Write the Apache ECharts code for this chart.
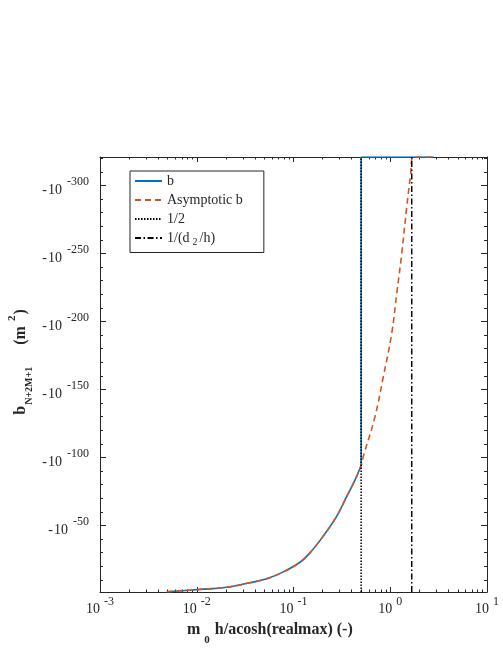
<!DOCTYPE html>
<html>
<head>
<meta charset="utf-8">
<script src="https://cdn.jsdelivr.net/npm/echarts@6/dist/echarts.min.js"></script>
<style>
  html, body { margin: 0; padding: 0; background: #fff; }
  #main { width: 503px; height: 653px; }
</style>
</head>
<body>
<div id="main"></div>
<script>
// x = m0 h/acosh(realmax), y = exponent e of b = -10^e
var bX = [0.0049, 0.0108, 0.0204, 0.0355, 0.0528, 0.0785, 0.1167, 0.148, 0.202, 0.279, 0.355, 0.433, 0.5, 0.5, 2.8];
var bExp = [-1.2, -2.9, -4.5, -7.8, -10.7, -15.8, -22.9, -29.8, -41.9, -56.6, -71.3, -83.5, -94, -321, -321];
var asymX = [0.0049, 0.0108, 0.0204, 0.0355, 0.0528, 0.0785, 0.1167, 0.148, 0.202, 0.279, 0.355, 0.433, 0.5, 0.526, 0.695, 0.847, 1.035, 1.166, 1.313, 1.479, 1.625, 1.72, 2.8];
var asymExp = [-1.2, -2.9, -4.5, -7.8, -10.7, -15.8, -22.9, -29.8, -41.9, -56.6, -71.3, -83.5, -94, -100.6, -129.9, -159.2, -191.1, -220.4, -249.7, -283.9, -308.4, -321, -321];
var halfX = 0.5;
var d2X = 1.667;

var yMin = -321, yMax = -1;
var yMajor = [-50, -100, -150, -200, -250, -300];
var yMinor = [-10, -20, -30, -40, -60, -70, -80, -90, -110, -120, -130, -140, -160, -170, -180, -190,
              -210, -220, -230, -240, -260, -270, -280, -290, -310, -320];
var xMajor = [0.001, 0.01, 0.1, 1, 10];
var xMinor = [];
[0.001, 0.01, 0.1, 1].forEach(function (d) {
  for (var k = 2; k <= 9; k++) xMinor.push(+(k * d).toPrecision(3));
});

var ink = '#262626';
var serif = 'Liberation Serif';
var jump = 12; // index where b leaves the curve and jumps to the floor

function pairs(xs, ys) {
  return xs.map(function (x, i) { return [x, ys[i]]; });
}

function xAx(pos, ticks, len, withLabel, withLine) {
  return {
    type: 'log', logBase: 10, position: pos, min: 0.001, max: 10,
    axisLine: { show: withLine, onZero: false, lineStyle: { color: ink, width: 1 } },
    axisTick: { show: true, inside: true, length: len, customValues: ticks, lineStyle: { color: ink } },
    axisLabel: {
      show: withLabel, customValues: ticks, margin: 2,
      formatter: function (v) { return '{b|10}{s|' + Math.round(Math.log10(v)) + '}'; },
      rich: {
        b: { fontFamily: serif, fontSize: 14, color: ink, padding: [8, 0, 0, 0] },
        s: { fontFamily: serif, fontSize: 12, color: ink, padding: [0, 0, 7, 4] }
      }
    },
    splitLine: { show: false },
    minorTick: { show: false }
  };
}

function yAx(pos, ticks, len, withLabel, withLine) {
  return {
    type: 'value', position: pos, inverse: true, min: yMin, max: yMax,
    axisLine: { show: withLine, onZero: false, lineStyle: { color: ink, width: 1 } },
    axisTick: { show: true, inside: true, length: len, customValues: ticks, lineStyle: { color: ink } },
    axisLabel: {
      show: withLabel, customValues: ticks, margin: 11,
      formatter: function (v) { return '{m|-}{b|10}{s|' + v + '}'; },
      rich: {
        m: { fontFamily: serif, fontSize: 14, color: ink, padding: [10, 1, 0, 0] },
        b: { fontFamily: serif, fontSize: 14, color: ink, padding: [10, 0, 0, 0] },
        s: { fontFamily: serif, fontSize: 12, color: ink, padding: [0, 0, 7, 5] }
      }
    },
    splitLine: { show: false }
  };
}

var chart = echarts.init(document.getElementById('main'));
chart.setOption({
  animation: false,
  backgroundColor: '#fff',
  grid: { left: 100, right: 16, top: 157, bottom: 61 },
  xAxis: [
    xAx('bottom', xMajor, 5, true, true),
    xAx('bottom', xMinor, 2.5, false, false),
    xAx('top', xMajor, 5, false, true),
    xAx('top', xMinor, 2.5, false, false)
  ],
  yAxis: [
    yAx('left', yMajor, 6, true, true),
    yAx('left', yMinor, 3, false, false),
    yAx('right', yMajor, 6, false, true),
    yAx('right', yMinor, 3, false, false)
  ],
  legend: {
    orient: 'vertical', left: 130, top: 171,
    itemWidth: 27, itemHeight: 10, itemGap: 5,
    padding: [3, 21, 5, 4],
    borderColor: ink, borderWidth: 1, backgroundColor: '#fff',
    itemStyle: { opacity: 0 },
    textStyle: {
      fontFamily: serif, fontSize: 14, color: ink,
      rich: { sub: { fontFamily: serif, fontSize: 10, color: ink, padding: [9, 2, 0, 3] } }
    },
    formatter: function (name) {
      return name === '1/(d2/h)' ? '1/(d{sub|2}/h)' : name;
    },
    data: ['b', 'Asymptotic b', '1/2', '1/(d2/h)']
  },
  series: [
    {
      name: 'b', type: 'line', symbol: 'none', smooth: 0.4,
      data: pairs(bX.slice(0, jump + 1), bExp.slice(0, jump + 1)),
      lineStyle: { color: '#0072BD', width: 1.6 },
      itemStyle: { color: '#0072BD' }
    },
    {
      name: 'b', type: 'line', symbol: 'none',
      data: pairs(bX.slice(jump), bExp.slice(jump)),
      lineStyle: { color: '#0072BD', width: 1.6 },
      itemStyle: { color: '#0072BD' }
    },
    {
      name: 'Asymptotic b', type: 'line', symbol: 'none', smooth: 0.4,
      data: pairs(asymX, asymExp),
      lineStyle: { color: '#D95319', width: 1.6, type: [6, 4] },
      itemStyle: { color: '#D95319' }
    },
    {
      name: '1/2', type: 'line', symbol: 'none',
      data: [[halfX, yMax], [halfX, yMin]],
      lineStyle: { color: '#000', width: 1.5, type: [1.5, 1.5] },
      itemStyle: { color: '#000' }
    },
    {
      name: '1/(d2/h)', type: 'line', symbol: 'none',
      data: [[d2X, yMax], [d2X, yMin]],
      lineStyle: { color: '#000', width: 1.5, type: [6, 2.5, 1.5, 2.5] },
      itemStyle: { color: '#000' }
    }
  ],
  graphic: [
    {
      type: 'text', left: 187, top: 622,
      style: {
        text: '{a|m}{sub|0}{a| h/acosh(realmax) (-)}',
        rich: {
          a: { fontFamily: serif, fontSize: 16, fontWeight: 'bold', fill: ink },
          sub: { fontFamily: serif, fontSize: 11, fontWeight: 'bold', fill: ink, padding: [21, 1, 0, 4] }
        }
      }
    },
    {
      type: 'text', x: 21, y: 362, rotation: Math.PI / 2,
      style: {
        text: '{a|b}{sub|N+2M+1}{a|(m}{sup|2}{a|)}',
        align: 'center', verticalAlign: 'middle',
        rich: {
          a: { fontFamily: serif, fontSize: 16, fontWeight: 'bold', fill: ink },
          sub: { fontFamily: serif, fontSize: 10, fontWeight: 'bold', fill: ink, padding: [16, 22, 0, 1] },
          sup: { fontFamily: serif, fontSize: 11, fontWeight: 'bold', fill: ink, padding: [0, 1, 18, 5] }
        }
      }
    }
  ]
});
</script>
</body>
</html>
